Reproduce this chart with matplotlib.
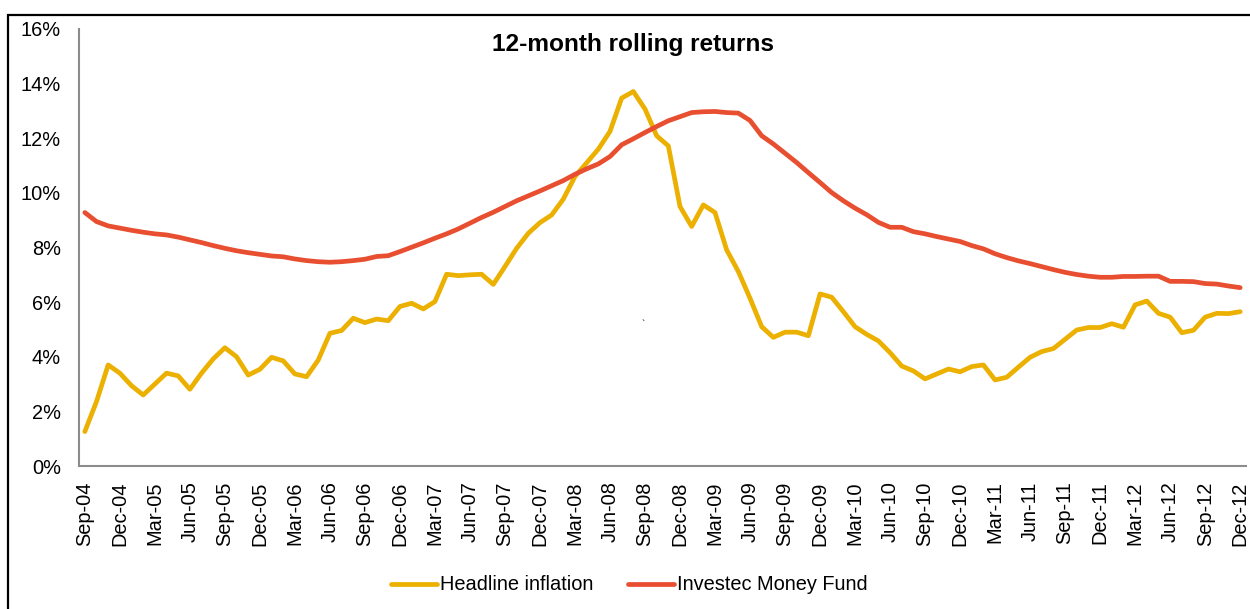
import numpy as np
import matplotlib
matplotlib.use('Agg')
import matplotlib.pyplot as plt
from matplotlib.patches import Rectangle

plt.rcParams['font.family'] = ['Liberation Sans', 'DejaVu Sans']

# monthly, Sep-04 .. Dec-12 (100 months)
months = ['Sep', 'Oct', 'Nov', 'Dec', 'Jan', 'Feb', 'Mar', 'Apr', 'May', 'Jun', 'Jul', 'Aug']
start_year = 4
n_months = 100

headline_inflation = [
    1.26, 2.36, 3.70, 3.40, 2.94, 2.60, 3.00, 3.40, 3.30, 2.81,
    3.40, 3.92, 4.33, 4.00, 3.33, 3.54, 3.98, 3.85, 3.37, 3.27,
    3.88, 4.86, 4.96, 5.41, 5.25, 5.38, 5.32, 5.84, 5.96, 5.75,
    6.02, 7.02, 6.97, 7.00, 7.02, 6.65, 7.30, 7.97, 8.52, 8.91,
    9.19, 9.77, 10.60, 11.10, 11.60, 12.25, 13.47, 13.71, 13.07, 12.09,
    11.72, 9.50, 8.77, 9.56, 9.28, 7.91, 7.12, 6.14, 5.10, 4.71,
    4.90, 4.90, 4.77, 6.30, 6.18, 5.65, 5.10, 4.82, 4.58, 4.15,
    3.66, 3.48, 3.19, 3.37, 3.55, 3.45, 3.64, 3.70, 3.15, 3.25,
    3.62, 3.98, 4.19, 4.30, 4.64, 4.98, 5.07, 5.07, 5.21, 5.08,
    5.90, 6.04, 5.59, 5.45, 4.88, 4.97, 5.45, 5.59, 5.58, 5.65,
]

money_fund = [
    9.28, 8.95, 8.79, 8.71, 8.63, 8.56, 8.50, 8.46, 8.38, 8.28,
    8.18, 8.07, 7.97, 7.88, 7.81, 7.75, 7.69, 7.66, 7.58, 7.52,
    7.48, 7.46, 7.48, 7.52, 7.57, 7.67, 7.70, 7.85, 8.01, 8.17,
    8.34, 8.50, 8.68, 8.89, 9.10, 9.29, 9.50, 9.71, 9.89, 10.07,
    10.26, 10.45, 10.68, 10.88, 11.06, 11.33, 11.76, 11.98, 12.21, 12.43,
    12.64, 12.79, 12.94, 12.97, 12.98, 12.94, 12.92, 12.65, 12.09, 11.79,
    11.45, 11.11, 10.74, 10.38, 10.01, 9.71, 9.44, 9.20, 8.92, 8.74,
    8.74, 8.58, 8.50, 8.40, 8.31, 8.22, 8.07, 7.95, 7.77, 7.63,
    7.51, 7.41, 7.30, 7.19, 7.09, 7.01, 6.95, 6.91, 6.91, 6.94,
    6.94, 6.95, 6.95, 6.76, 6.76, 6.75, 6.68, 6.66, 6.59, 6.53,
]

y_ticks = [0, 2, 4, 6, 8, 10, 12, 14, 16]

# build "Sep-04" style labels for every month
labels = []
for i in range(n_months):
    m = months[i % 12]
    yr = start_year + (i + 8) // 12
    labels.append('%s-%02d' % (m, yr))

x = np.arange(n_months)
tick_pos = x[::3]
tick_lab = [labels[i] for i in tick_pos]

fig = plt.figure(figsize=(12.5, 6.09), dpi=100)
ax = fig.add_axes([0.0632, 0.2348, 0.9336, 0.7176])

ax.plot(x, headline_inflation, color='#EBB000', lw=3.4, label='Headline inflation',
        solid_joinstyle='round', solid_capstyle='round')
ax.plot(x, money_fund, color='#E84E30', lw=3.4, label='Investec Money Fund',
        solid_joinstyle='round', solid_capstyle='round')

ax.set_xlim(-0.5, n_months - 0.5)
ax.set_ylim(0, 16)
ax.set_yticks(y_ticks)
ax.set_yticklabels(['%d%%' % v for v in y_ticks])
ax.set_xticks(tick_pos)
ax.set_xticklabels(tick_lab, rotation=90)
ax.tick_params(axis='both', length=0, labelsize=14.4, colors='black')
ax.tick_params(axis='y', pad=13)
ax.tick_params(axis='x', pad=11)

for s in ['top', 'right']:
    ax.spines[s].set_visible(False)
for s in ['left', 'bottom']:
    ax.spines[s].set_color('#8C8C8C')
    ax.spines[s].set_linewidth(1.5)

fig.text(633 / 1250, 1 - 45 / 609, '12-month rolling returns', fontsize=17.6,
         fontweight='bold', ha='center', va='center')

leg = fig.legend(loc='center', bbox_to_anchor=(629 / 1250, 1 - 585 / 609), ncol=2, frameon=False,
                 fontsize=14.4, handlelength=2.3, handletextpad=0.15, columnspacing=1.75)

# stray mark in the original
fig.text(643 / 1250, 1 - 325 / 609, '`', fontsize=7, ha='center', va='center')

# outer frame (left and top edges visible)
fig.patches.append(Rectangle((8 / 1250, -0.5), 2, 0.5 + (1 - 14.5 / 609), transform=fig.transFigure,
                             fill=False, edgecolor='black', lw=1.6, clip_on=False))

fig.savefig('out.png', dpi=100)
